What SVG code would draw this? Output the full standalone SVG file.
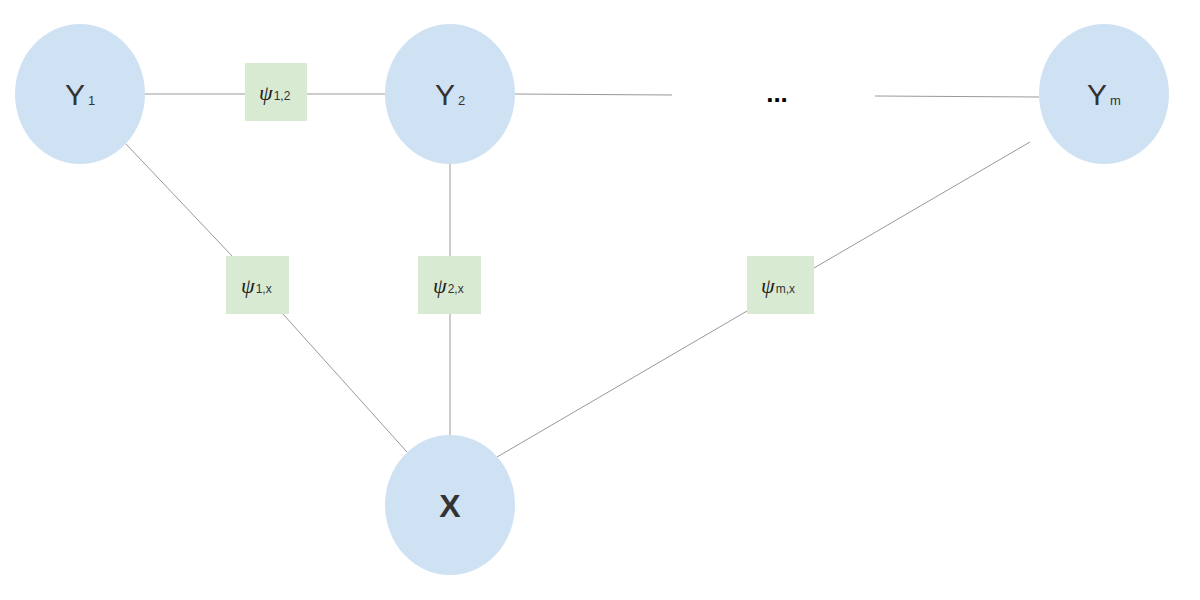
<svg xmlns="http://www.w3.org/2000/svg" width="1200" height="600" viewBox="0 0 1200 600">
<style>
.var{fill:#cfe2f3;}
.fac{fill:#d9ead3;}
.edge{stroke:#999999;stroke-width:1;fill:none;}
.lbl{font-family:"Liberation Sans",Arial,sans-serif;fill:#333333;}
.psi{font-family:"Liberation Serif","Times New Roman",serif;font-style:italic;font-size:22px;fill:#222222;}
.sub{font-family:"Liberation Sans",Arial,sans-serif;font-style:normal;font-size:12px;fill:#333333;}
</style>
<rect width="1200" height="600" fill="#ffffff"/>
<g id="connectors">
<line class="edge" x1="145" y1="94" x2="245" y2="94"/>
<line class="edge" x1="307" y1="94" x2="385" y2="94"/>
<line class="edge" x1="515" y1="94" x2="672" y2="95"/>
<line class="edge" x1="875" y1="96" x2="1039" y2="97"/>
<line class="edge" x1="125" y1="143" x2="233" y2="257"/>
<line class="edge" x1="283" y1="314" x2="407" y2="452"/>
<line class="edge" x1="450" y1="163" x2="450" y2="256"/>
<line class="edge" x1="450" y1="314" x2="450" y2="435"/>
<line class="edge" x1="1030" y1="142" x2="814" y2="268"/>
<line class="edge" x1="747" y1="311" x2="497" y2="457"/>
</g>
<g id="Y1">
<ellipse class="var" cx="80" cy="94" rx="65" ry="70"/>
<text class="lbl" x="65" y="105" font-size="30">Y<tspan font-size="13" dx="3">1</tspan></text>
</g>
<g id="Y2">
<ellipse class="var" cx="450" cy="94" rx="65" ry="70"/>
<text class="lbl" x="435" y="105" font-size="30">Y<tspan font-size="13" dx="3">2</tspan></text>
</g>
<g id="Ym">
<ellipse class="var" cx="1104" cy="94" rx="65" ry="70"/>
<text class="lbl" x="1087" y="105" font-size="30">Y<tspan font-size="13" dx="3">m</tspan></text>
</g>
<g id="X">
<ellipse class="var" cx="450" cy="505" rx="65" ry="70"/>
<text class="lbl" x="450" y="517" font-size="32" font-weight="bold" text-anchor="middle">X</text>
</g>
<g id="dots">
<text x="777" y="102" font-family="Liberation Sans, Arial, sans-serif" font-size="26" font-weight="bold" text-anchor="middle" fill="#000000">...</text>
</g>
<g id="psi12">
<rect class="fac" x="245" y="63" width="62" height="58"/>
<text class="psi" x="259" y="100">ψ<tspan class="sub" dx="1">1,2</tspan></text>
</g>
<g id="psi1x">
<rect class="fac" x="226" y="256" width="63" height="58"/>
<text class="psi" x="241" y="293">ψ<tspan class="sub" dx="1">1,x</tspan></text>
</g>
<g id="psi2x">
<rect class="fac" x="418" y="256" width="63" height="58"/>
<text class="psi" x="433" y="293">ψ<tspan class="sub" dx="1">2,x</tspan></text>
</g>
<g id="psimx">
<rect class="fac" x="747" y="256" width="67" height="58"/>
<text class="psi" x="761" y="293">ψ<tspan class="sub" dx="1">m,x</tspan></text>
</g>
</svg>
